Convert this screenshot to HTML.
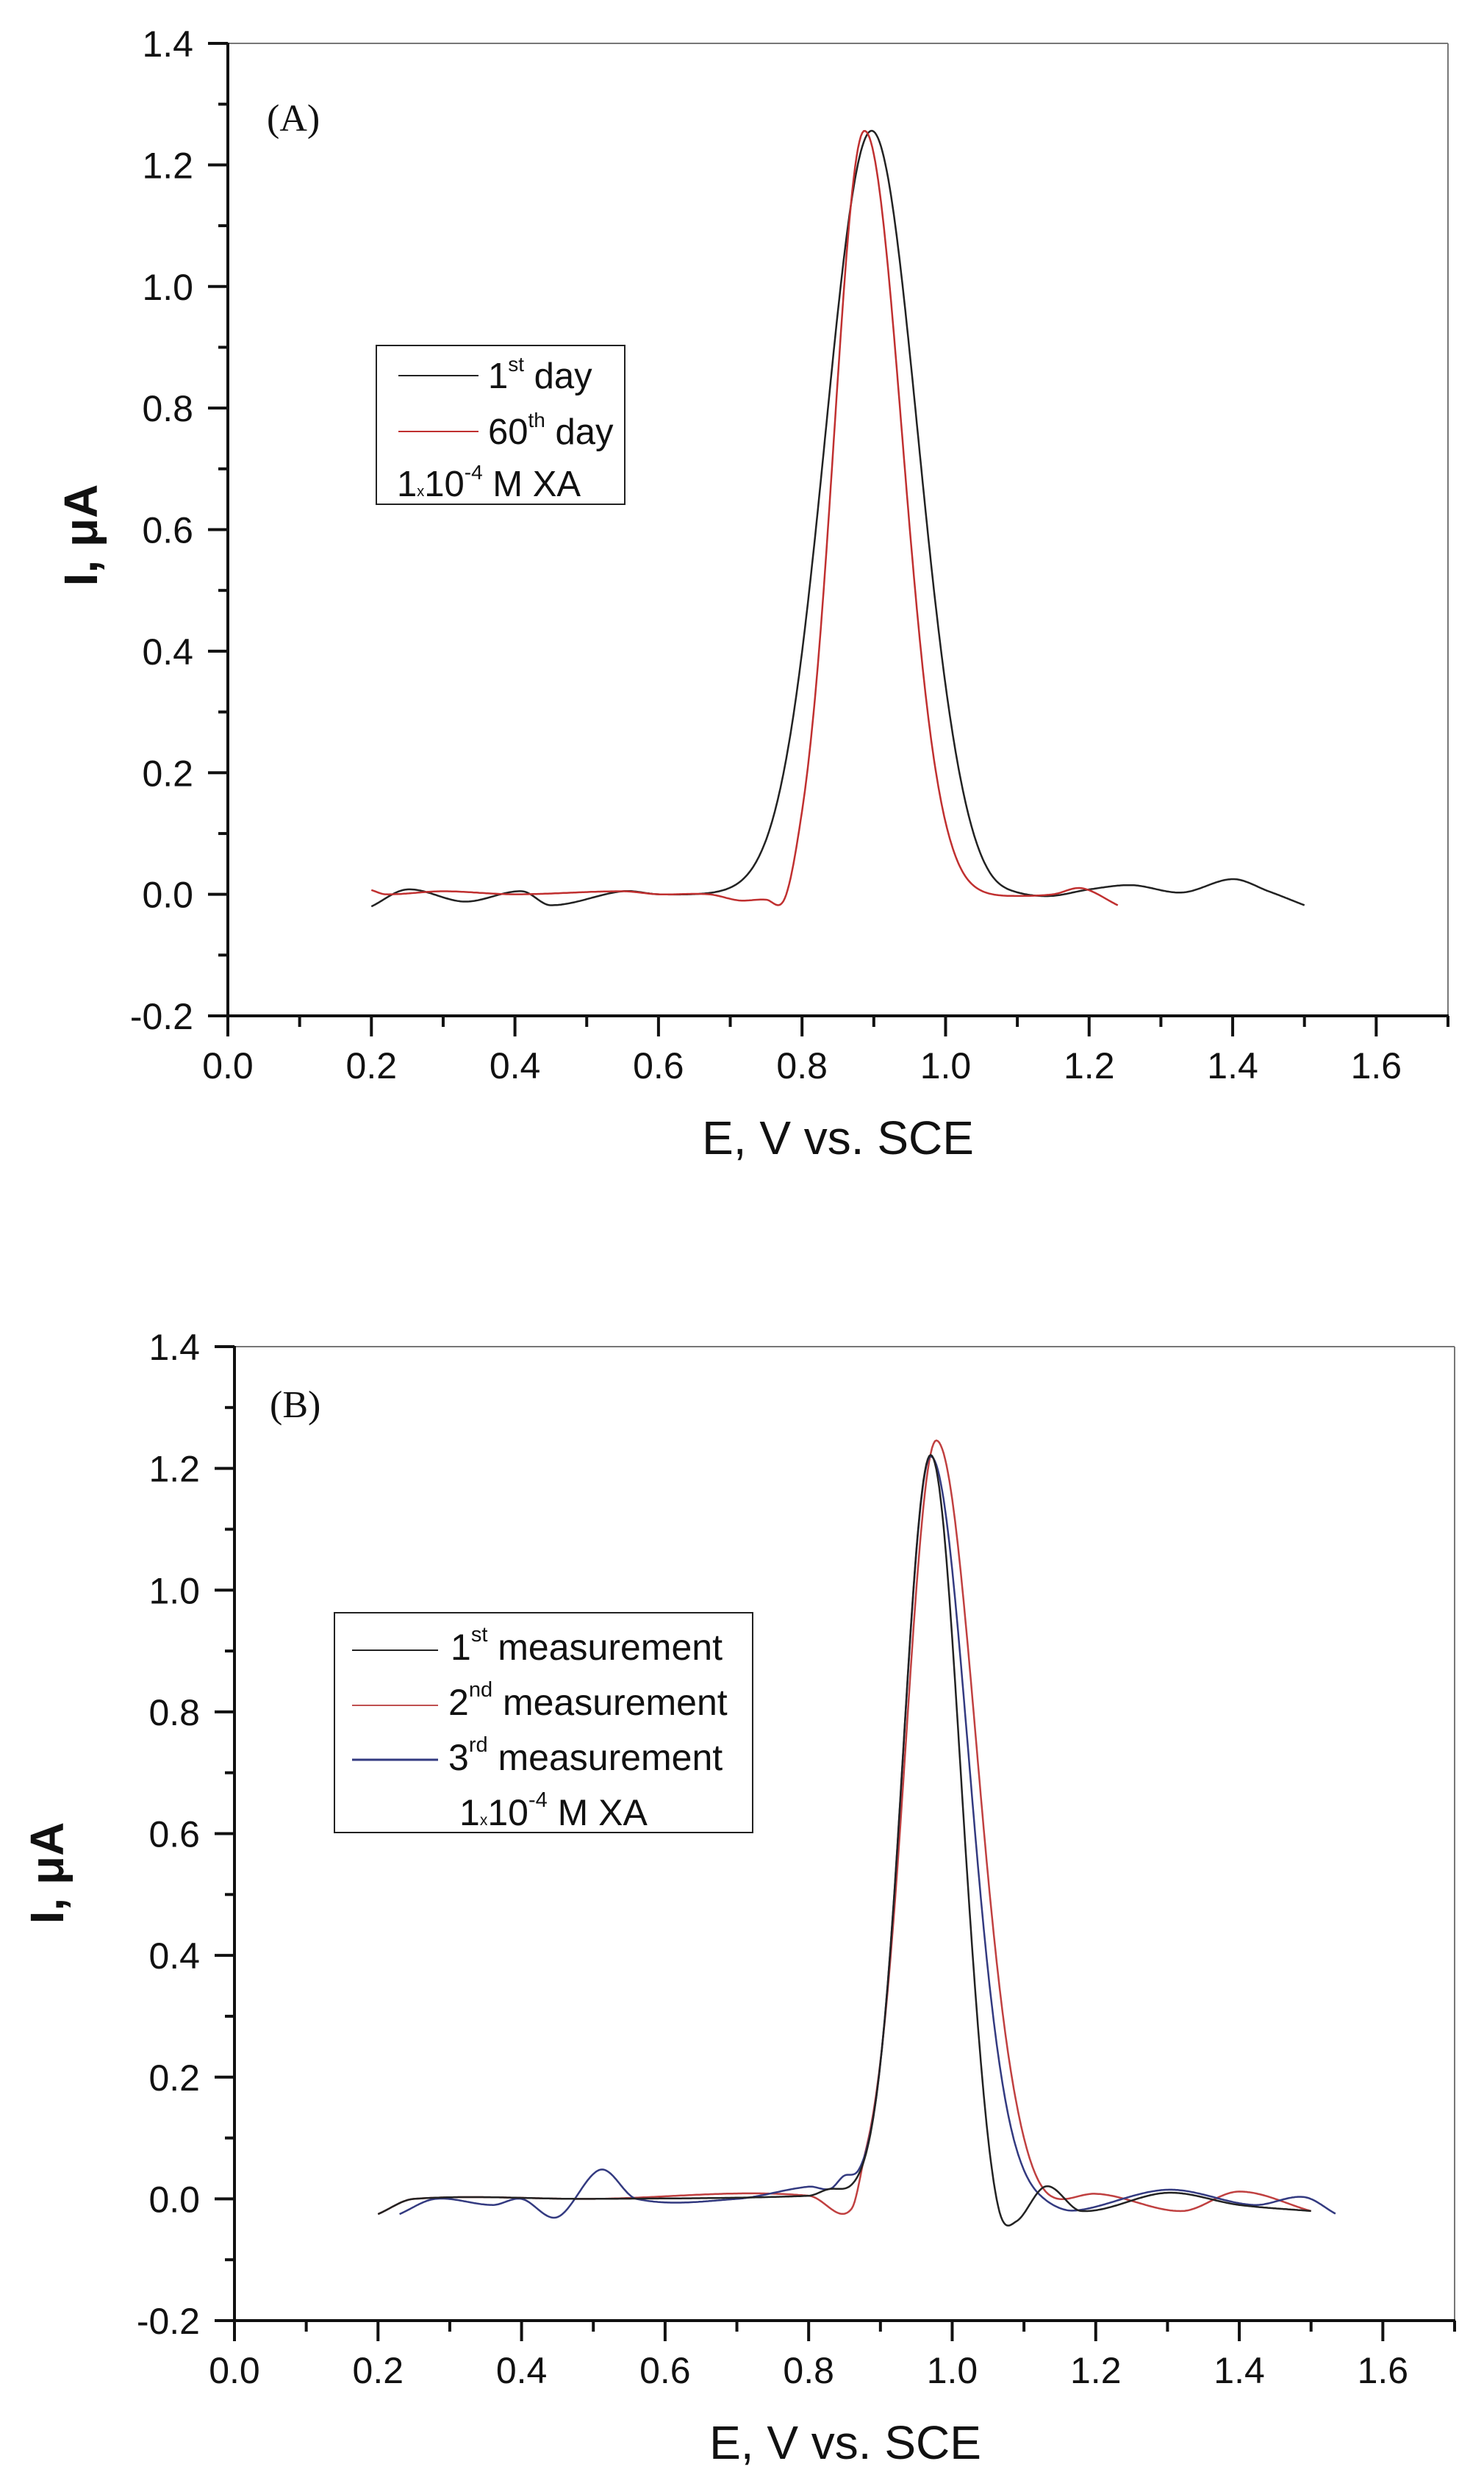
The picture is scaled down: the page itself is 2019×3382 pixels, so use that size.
<!DOCTYPE html>
<html><head><meta charset="utf-8">
<style>
html,body{margin:0;padding:0;background:#fff;}
svg{display:block;}
text{font-family:"Liberation Sans",Arial,sans-serif;fill:#111;}
.tl{font-size:50px;}
.sr{font-family:"Liberation Serif",serif;}
</style></head>
<body>
<svg id="s" width="2019" height="3382" viewBox="0 0 2019 3382" xmlns="http://www.w3.org/2000/svg">
<rect width="2019" height="3382" fill="#fff"/>
<g id="g"></g>
<!-- Panel A texts -->
<text x="363" y="178" class="sr" font-size="52">(A)</text>
<text x="1140" y="1570" font-size="64" text-anchor="middle">E, V vs. SCE</text>
<text transform="translate(132,728) rotate(-90)" font-size="64" font-weight="bold" text-anchor="middle">I, μA</text>
<rect x="512" y="470" width="338" height="216" fill="#fff" stroke="#222" stroke-width="2"/>
<line x1="542" y1="511" x2="651" y2="511" stroke="#222" stroke-width="2"/>
<line x1="542" y1="587" x2="651" y2="587" stroke="#c03030" stroke-width="2"/>
<text x="664" y="528" font-size="49">1<tspan font-size="28" dy="-23">st</tspan><tspan dy="23"> day</tspan></text>
<text x="664" y="604" font-size="49">60<tspan font-size="28" dy="-23">th</tspan><tspan dy="23"> day</tspan></text>
<text x="540" y="675" font-size="49">1<tspan font-size="20">x</tspan>10<tspan font-size="28" dy="-23">-4</tspan><tspan dy="23"> M XA</tspan></text>
<!-- Panel B texts -->
<text x="367" y="1928" class="sr" font-size="52">(B)</text>
<text x="1150" y="3345" font-size="64" text-anchor="middle">E, V vs. SCE</text>
<text transform="translate(86,2548) rotate(-90)" font-size="64" font-weight="bold" text-anchor="middle">I, μA</text>
<rect x="455" y="2194" width="569" height="299" fill="#fff" stroke="#222" stroke-width="2"/>
<line x1="479" y1="2245" x2="596" y2="2245" stroke="#222" stroke-width="2"/>
<line x1="479" y1="2320" x2="596" y2="2320" stroke="#c05050" stroke-width="2"/>
<line x1="479" y1="2394" x2="596" y2="2394" stroke="#333a80" stroke-width="3"/>
<text x="613" y="2258" font-size="50">1<tspan font-size="29" dy="-25">st</tspan><tspan dy="25"> measurement</tspan></text>
<text x="610" y="2333" font-size="50">2<tspan font-size="29" dy="-25">nd</tspan><tspan dy="25"> measurement</tspan></text>
<text x="610" y="2408" font-size="50">3<tspan font-size="29" dy="-25">rd</tspan><tspan dy="25"> measurement</tspan></text>
<text x="625" y="2483" font-size="50">1<tspan font-size="21">x</tspan>10<tspan font-size="29" dy="-25">-4</tspan><tspan dy="25"> M XA</tspan></text>
</svg>
<script>
var g=document.getElementById('g');var NS='http://www.w3.org/2000/svg';
function el(t,a){var e=document.createElementNS(NS,t);for(var k in a)e.setAttribute(k,a[k]);g.appendChild(e);return e;}
function axes(L,T,R,B){
 var dx=(R-L)/1.7, dy=(B-T)/1.6;
 el('line',{x1:L,y1:T,x2:R,y2:T,stroke:'#777','stroke-width':2});
 el('line',{x1:R,y1:T,x2:R,y2:B,stroke:'#777','stroke-width':2});
 el('line',{x1:L,y1:T-1,x2:L,y2:B+2,stroke:'#111','stroke-width':4});
 el('line',{x1:L-2,y1:B,x2:R+1,y2:B,stroke:'#111','stroke-width':4});
 for(var i=0;i<=17;i++){var x=L+i*dx*0.1;var maj=i%2==0;
  el('line',{x1:x,y1:B,x2:x,y2:B+(maj?28:15),stroke:'#111','stroke-width':4});
  if(maj&&i<=16){var t=el('text',{x:x,y:B+85,'text-anchor':'middle','class':'tl'});t.textContent=(i/10).toFixed(1);}
 }
 for(var j=0;j<=16;j++){var y=B-j*dy*0.1;var maj=j%2==0;
  el('line',{x1:L,y1:y,x2:L-(maj?27:13),y2:y,stroke:'#111','stroke-width':4});
  if(maj){var t=el('text',{x:L-47,y:y+18,'text-anchor':'end','class':'tl'});t.textContent=(-0.2+j/10).toFixed(1);}
 }
}
function cr(k,x){
 if(x<=k[0][0])return k[0][1]; if(x>=k[k.length-1][0])return k[k.length-1][1];
 for(var i=0;i<k.length-1;i++){if(x<=k[i+1][0]){
  var p0=k[Math.max(0,i-1)],p1=k[i],p2=k[i+1],p3=k[Math.min(k.length-1,i+2)];
  var t=(x-p1[0])/(p2[0]-p1[0]);
  var m1=(p2[1]-p0[1])/(p2[0]-p0[0])*(p2[0]-p1[0]);
  var m2=(p3[1]-p1[1])/(p3[0]-p1[0])*(p2[0]-p1[0]);
  var t2=t*t,t3=t2*t;
  return (2*t3-3*t2+1)*p1[1]+(t3-2*t2+t)*m1+(-2*t3+3*t2)*p2[1]+(t3-t2)*m2;}}
}
function series(L,T,R,B,x0,x1,knots,pk,col,w){
 var dx=(R-L)/1.7, dy=(B-T)/1.6, d='';
 for(var x=x0;x<=x1+1e-9;x+=0.002){
  var y=cr(knots,x);
  var s=x<pk.c?pk.sl:pk.sr; var u=(x-pk.c)/s; y+=pk.h*Math.exp(-u*u/2);
  var px=L+x*dx, py=B-(y+0.2)*dy;
  d+=(d?'L':'M')+px.toFixed(1)+' '+py.toFixed(1);
 }
 el('path',{d:d,fill:'none',stroke:col,'stroke-width':w||2.5});
}
var A=[310,59,1970,1382]; axes.apply(null,A);
series(A[0],A[1],A[2],A[3],0.2,1.5,[[0.2,-0.02],[0.25,0.008],[0.33,-0.012],[0.41,0.005],[0.45,-0.018],[0.55,0.005],[0.6,0],[0.7,0],[1.0,0],[1.06,-0.01],[1.1,-0.005],[1.15,-0.003],[1.2,0.008],[1.26,0.015],[1.33,0.003],[1.4,0.025],[1.45,0.005],[1.5,-0.018]],{c:0.897,h:1.255,sl:0.064,sr:0.064},'#222');
series(A[0],A[1],A[2],A[3],0.2,1.24,[[0.2,0.007],[0.22,0],[0.3,0.005],[0.4,0],[0.55,0.005],[0.6,0],[0.67,0],[0.71,-0.01],[0.75,-0.015],[0.775,-0.045],[0.80,-0.01],[0.85,0],[1.0,0],[1.03,-0.003],[1.1,-0.003],[1.15,0],[1.19,0.01],[1.24,-0.018]],{c:0.887,h:1.255,sl:0.042,sr:0.052},'#c03030');
var Bp=[319,1832,1979,3157]; axes.apply(null,Bp);
series(Bp[0],Bp[1],Bp[2],Bp[3],0.2,1.5,[[0.2,-0.025],[0.25,0],[0.5,0],[0.8,0.005],[0.86,-0.04],[0.88,0],[1.0,0],[1.08,0],[1.13,-0.015],[1.2,0.008],[1.32,-0.02],[1.4,0.012],[1.5,-0.02]],{c:0.978,h:1.245,sl:0.042,sr:0.055},'#c04040');
series(Bp[0],Bp[1],Bp[2],Bp[3],0.23,1.535,[[0.23,-0.025],[0.28,0],[0.36,-0.01],[0.4,0],[0.45,-0.03],[0.51,0.048],[0.56,0],[0.7,0],[0.8,0.02],[0.83,0.015],[0.85,0.03],[0.87,0.01],[0.9,0],[1.05,0],[1.12,-0.01],[1.17,-0.02],[1.3,0.015],[1.42,-0.01],[1.49,0.003],[1.535,-0.025]],{c:0.97,h:1.22,sl:0.038,sr:0.052},'#333a80');
series(Bp[0],Bp[1],Bp[2],Bp[3],0.2,1.5,[[0.2,-0.025],[0.25,0],[0.5,0],[0.8,0.005],[0.83,0.015],[0.86,0.005],[0.89,0],[1.0,0],[1.03,-0.02],[1.065,-0.09],[1.09,-0.05],[1.13,0.02],[1.18,-0.02],[1.3,0.01],[1.4,-0.01],[1.5,-0.02]],{c:0.97,h:1.22,sl:0.038,sr:0.04},'#222');
</script>
</body></html>
